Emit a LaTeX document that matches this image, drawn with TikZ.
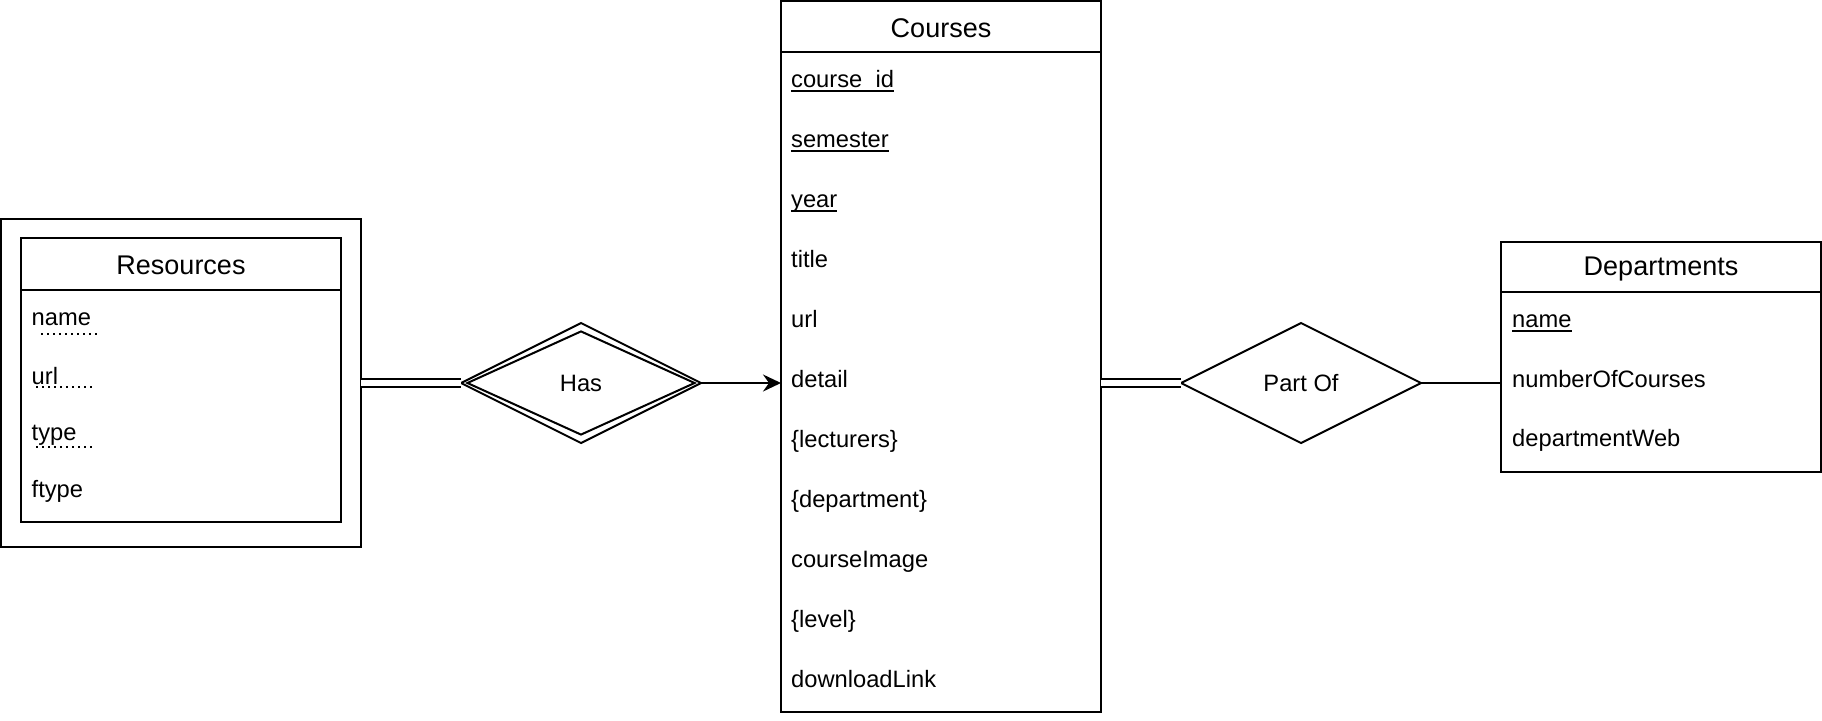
\documentclass[tikz,border=0pt]{standalone}
\usepackage{fontspec}
\setmainfont{Liberation Sans}
\usetikzlibrary{shapes.geometric,arrows.meta}
\newcommand{\mykey}[1]{\setbox0\hbox{#1}\rlap{\rule[-5pt]{\wd0}{2pt}}\box0}
\begin{document}
\begin{tikzpicture}[x=1pt,y=-1pt,
  box/.style={draw, line width=2pt, inner sep=0pt, outer sep=0pt, anchor=north west},
  rowtxt/.style={anchor=base west, inner sep=0pt, font=\fontsize{23.7}{28}\selectfont},
  hdr/.style={anchor=base, inner sep=0pt, font=\fontsize{27}{32}\selectfont},
  conn/.style={line width=2pt},
  dbl/.style={line width=2pt, double, double distance=6pt},
  rel/.style={diamond, draw, line width=2pt, inner sep=0pt, outer sep=0pt, minimum width=240pt, minimum height=120pt, font=\fontsize{23.7}{28}\selectfont},
  dotline/.style={line width=2pt, dash pattern=on 2pt off 4pt}]
\useasboundingbox (0,0) rectangle (1822,720);

% Resources (weak entity)
\node[box, minimum width=360pt, minimum height=328pt] (resouter) at (1,219) {};
\node[box, minimum width=320pt, minimum height=284pt] (res) at (21,238) {};
\draw[conn] (res.west |- 0,290) -- (res.east |- 0,290);
\node[hdr] (reshdr) at (181,274) {Resources};
\node[rowtxt] (r1) at (31.5,325) {name};
\node[rowtxt] (r2) at (31.5,384) {url};
\node[rowtxt] (r3) at (31.5,440) {type};
\node[rowtxt] (r4) at (31.5,497) {ftype};
\draw[dotline] (41,334) -- (97,334);
\draw[dotline] (36,387) -- (93,387);
\draw[dotline] (36,447) -- (93,447);

% Courses
\node[box, minimum width=320pt, minimum height=711pt] (courses) at (781,1) {};
\draw[conn] (courses.west |- 0,52) -- (courses.east |- 0,52);
\node[hdr] (coursehdr) at (941,37) {Courses};
\node[rowtxt] (c1) at (791,87) {\mykey{course\_id}};
\node[rowtxt] (c2) at (791,147) {\mykey{semester}};
\node[rowtxt] (c3) at (791,207) {\mykey{year}};
\node[rowtxt] (c4) at (791,267) {title};
\node[rowtxt] (c5) at (791,327) {url};
\node[rowtxt] (c6) at (791,387) {detail};
\node[rowtxt] (c7) at (791,447) {\{lecturers\}};
\node[rowtxt] (c8) at (791,507) {\{department\}};
\node[rowtxt] (c9) at (791,567) {courseImage};
\node[rowtxt] (c10) at (791,627) {\{level\}};
\node[rowtxt] (c11) at (791,687) {downloadLink};

% Departments
\node[box, minimum width=320pt, minimum height=230pt] (dept) at (1501,242) {};
\draw[conn] (dept.west |- 0,292) -- (dept.east |- 0,292);
\node[hdr] (depthdr) at (1661,275) {Departments};
\node[rowtxt] (d1) at (1512,327) {\mykey{name}};
\node[rowtxt] (d2) at (1512,387) {numberOfCourses};
\node[rowtxt] (d3) at (1512,446) {departmentWeb};

% Relationships
\node[rel] (has) at (581,383) {Has};
\node[diamond, draw, line width=2pt, inner sep=0pt, minimum width=228pt, minimum height=104pt] (hasin) at (has.center) {};
\node[rel] (partof) at (1301,383) {Part Of};

% Connectors
\draw[dbl] (resouter.east) -- (has.west);
\draw[conn, -{Stealth[length=18pt,width=17pt,inset=6pt]}] (has.east) -- (has.east -| courses.west);
\draw[dbl] (partof.west -| courses.east) -- (partof.west);
\draw[conn] (partof.east) -- (partof.east -| dept.west);
\end{tikzpicture}
\end{document}
